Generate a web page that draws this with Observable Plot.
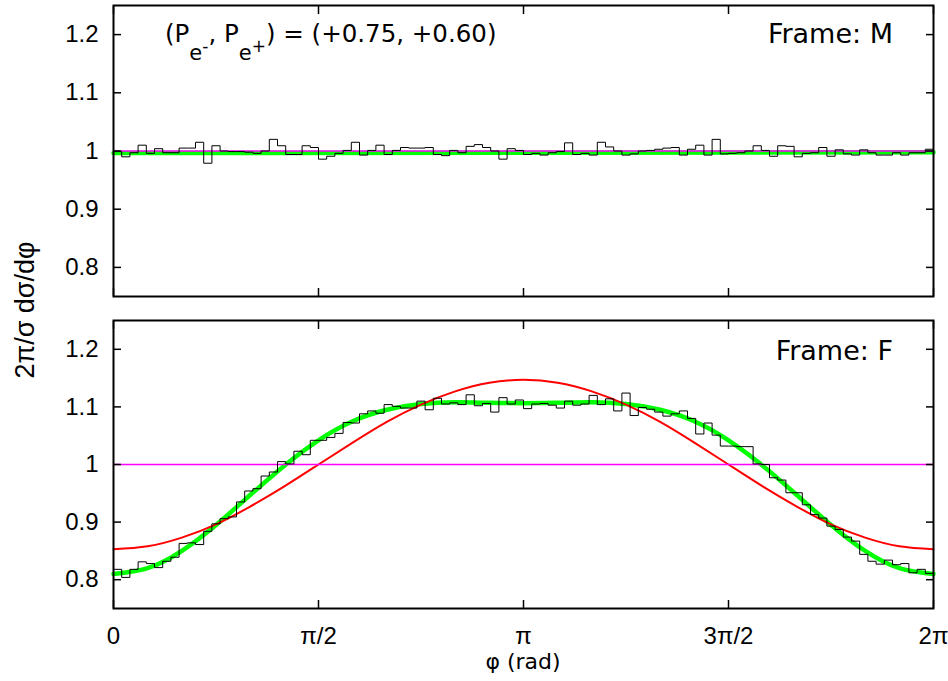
<!DOCTYPE html>
<html><head><meta charset="utf-8">
<script src="https://cdn.jsdelivr.net/npm/d3@7"></script>
<script src="https://cdn.jsdelivr.net/npm/@observablehq/plot@0.6"></script>
<style>
body{margin:0;background:#fff;}
#wrap{position:relative;width:948px;height:681px;background:#fff;font-family:"Liberation Sans",sans-serif;}
#wrap svg{display:block;}
.ylab{position:absolute;left:25px;top:310px;transform:translate(-50%,-50%) rotate(-90deg);font-size:27px;white-space:nowrap;line-height:1;color:#000;font-family:"Liberation Sans",sans-serif;}
</style></head><body>
<div id="wrap"></div>
<script>
// ---- data ----
const TAU = 2 * Math.PI;
const xTicks = [0, Math.PI / 2, Math.PI, 3 * Math.PI / 2, 2 * Math.PI];
const xTickLabels = ["0", "π/2", "π", "3π/2", "2π"];
const yTicks = [0.8, 0.9, 1.0, 1.1, 1.2];
const yTickLabels = ["0.8", "0.9", "1", "1.1", "1.2"];

// Frame M histogram (100 bins over 0..2π)
const histM = [
  0.999,0.990,0.997,1.010,0.996,1.004,0.997,0.997,1.005,1.005,
  1.015,0.979,1.009,1.000,0.999,0.999,0.998,0.996,1.000,1.020,
  1.009,0.994,0.994,1.009,1.006,0.986,0.991,0.996,1.001,1.015,
  0.993,1.001,1.010,0.994,1.001,1.006,1.005,1.005,1.006,0.994,
  0.992,1.001,0.997,1.008,1.011,1.006,1.000,0.986,1.004,1.001,
  0.994,0.996,0.993,0.997,0.999,1.014,0.994,0.996,0.993,1.015,
  1.007,1.000,0.993,0.995,1.000,1.001,1.003,1.005,1.006,0.993,
  1.003,1.010,0.993,1.020,0.995,0.996,0.997,1.000,1.009,1.001,
  0.991,1.009,1.008,0.990,0.996,0.997,1.006,0.991,1.002,0.995,
  0.993,1.002,0.997,0.993,0.993,0.997,0.993,0.997,0.997,1.003
];
// Frame F histogram
const histF = [
  0.818,0.804,0.818,0.831,0.828,0.821,0.832,0.839,0.863,0.864,
  0.861,0.884,0.897,0.906,0.909,0.935,0.954,0.958,0.980,0.987,
  1.005,1.001,1.023,1.017,1.042,1.042,1.047,1.054,1.073,1.072,
  1.088,1.093,1.089,1.104,1.101,1.098,1.098,1.110,1.095,1.115,
  1.105,1.107,1.104,1.121,1.102,1.106,1.091,1.116,1.105,1.112,
  1.097,1.105,1.106,1.103,1.098,1.110,1.103,1.105,1.120,1.104,
  1.114,1.093,1.124,1.085,1.099,1.096,1.091,1.084,1.088,1.093,
  1.080,1.053,1.072,1.051,1.032,1.032,1.031,1.031,1.001,1.000,
  0.977,0.973,0.951,0.951,0.930,0.913,0.907,0.893,0.887,0.874,
  0.867,0.844,0.832,0.827,0.834,0.826,0.828,0.812,0.818,0.811
];

// smooth curves sampled every π/12
const curvePhi = d3.range(25).map(k => k * Math.PI / 12);
const greenF = [0.810,0.820,0.850,0.895,0.947,0.998,1.042,1.075,1.095,1.105,1.108,1.107,1.1065,
                1.107,1.108,1.105,1.095,1.075,1.042,0.998,0.947,0.895,0.850,0.820,0.810];
const redF   = [0.853,0.858,0.873,0.896,0.927,0.962,1.000,1.038,1.074,1.104,1.127,1.142,1.147,
                1.142,1.127,1.104,1.074,1.038,1.000,0.962,0.927,0.896,0.873,0.858,0.853];
const phiM   = [0, Math.PI, 2 * Math.PI];
const greenM = [0.9965, 0.997, 0.998];
const redM   = [0.9975, 0.9975, 0.9975];
const unitLine = [1];

// ---- helpers ----
function stepPts(vals) {
  const w = TAU / vals.length;
  return [...vals.map((v, i) => ({x: i * w, y: v})), {x: TAU, y: vals[vals.length - 1]}];
}
function axesAndFrame(withXLabels) {
  const common = {label: null, tickFormat: () => "", strokeWidth: 1.5};
  const m = [
    Plot.axisY(yTicks, {...common, anchor: "left", tickSize: 8, dx: 8}),
    Plot.axisY(yTicks, {...common, anchor: "right", tickSize: 8, dx: -8}),
    Plot.axisX(xTicks, {...common, anchor: "top", tickSize: 8, dy: 8}),
    Plot.axisX(xTicks, {...common, anchor: "bottom", tickSize: 8, dy: -8}),
    Plot.axisY(yTicks, {anchor: "left", tickSize: 0, tickPadding: 15, label: null, fontSize: 24,
                        tickFormat: d => yTickLabels[yTicks.indexOf(d)]}),
    Plot.frame({stroke: "black", strokeWidth: 2})
  ];
  if (withXLabels) {
    m.push(Plot.axisX(xTicks, {anchor: "bottom", tickSize: 0, tickPadding: 18, label: null, fontSize: 24,
                               tickFormat: d => xTickLabels[xTicks.indexOf(d)]}));
  }
  return m;
}
const base = {
  width: 948, marginLeft: 113, marginRight: 15,
  x: {domain: [0, TAU]}, y: {domain: [0.75, 1.25]},
  style: {fontFamily: "Liberation Sans, sans-serif", fontSize: "24px", background: "white", color: "black", overflow: "visible"}
};

const topPlot = Plot.plot({
  ...base, height: 300, marginTop: 5, marginBottom: 4,
  marks: [
    Plot.line(redM, {x: phiM, y: redM, stroke: "#ff0000", strokeWidth: 2}),
    Plot.line(greenM, {x: phiM, y: greenM, stroke: "#00ff00", strokeWidth: 4.5}),
    Plot.ruleY(unitLine, {stroke: "#ff00ff", strokeWidth: 1.3}),
    Plot.line(stepPts(histM), {x: "x", y: "y", curve: "step-after", stroke: "black", strokeWidth: 1}),
    ...axesAndFrame(false)
  ]
});

const botPlot = Plot.plot({
  ...base, height: 381, marginTop: 20, marginBottom: 73,
  marks: [
    Plot.line(greenF, {x: curvePhi, y: greenF, curve: "natural", stroke: "#00ff00", strokeWidth: 4.5}),
    Plot.line(redF, {x: curvePhi, y: redF, curve: "natural", stroke: "#ff0000", strokeWidth: 2}),
    Plot.ruleY(unitLine, {stroke: "#ff00ff", strokeWidth: 1.3}),
    Plot.line(stepPts(histF), {x: "x", y: "y", curve: "step-after", stroke: "black", strokeWidth: 1}),
    ...axesAndFrame(true)
  ]
});

const wrap = document.getElementById("wrap");
wrap.appendChild(topPlot);
wrap.appendChild(botPlot);

// ---- annotations ----
const DV = "DejaVu Sans, sans-serif";
const ts = d3.select(topPlot);
const pol = ts.append("text").attr("x", 165).attr("y", 42).attr("text-anchor", "start")
  .attr("font-size", 24.5).attr("fill", "black").style("font-family", DV);
pol.append("tspan").text("(P");
pol.append("tspan").attr("dy", 18).attr("font-size", 21).text("e");
pol.append("tspan").attr("dy", -8).attr("font-size", 17).text("-");
pol.append("tspan").attr("dy", -10).attr("font-size", 24.5).text(", P");
pol.append("tspan").attr("dy", 18).attr("font-size", 21).text("e");
pol.append("tspan").attr("dy", -8).attr("font-size", 17).text("+");
pol.append("tspan").attr("dy", -10).attr("font-size", 24.5).text(") = (+0.75, +0.60)");

ts.append("text").attr("x", 893).attr("y", 43).attr("text-anchor", "end").attr("font-size", 27)
  .attr("fill", "black").style("font-family", DV).text("Frame: M");

const bs = d3.select(botPlot);
bs.append("text").attr("x", 893).attr("y", 60).attr("text-anchor", "end").attr("font-size", 27)
  .attr("fill", "black").style("font-family", DV).text("Frame: F");
bs.append("text").attr("x", 523).attr("y", 369).attr("text-anchor", "middle").attr("font-size", 22)
  .attr("fill", "black").style("font-family", DV).text("φ (rad)");

const yl = document.createElement("div");
yl.className = "ylab";
yl.textContent = "2π/σ dσ/dφ";
wrap.appendChild(yl);
</script>
</body></html>
